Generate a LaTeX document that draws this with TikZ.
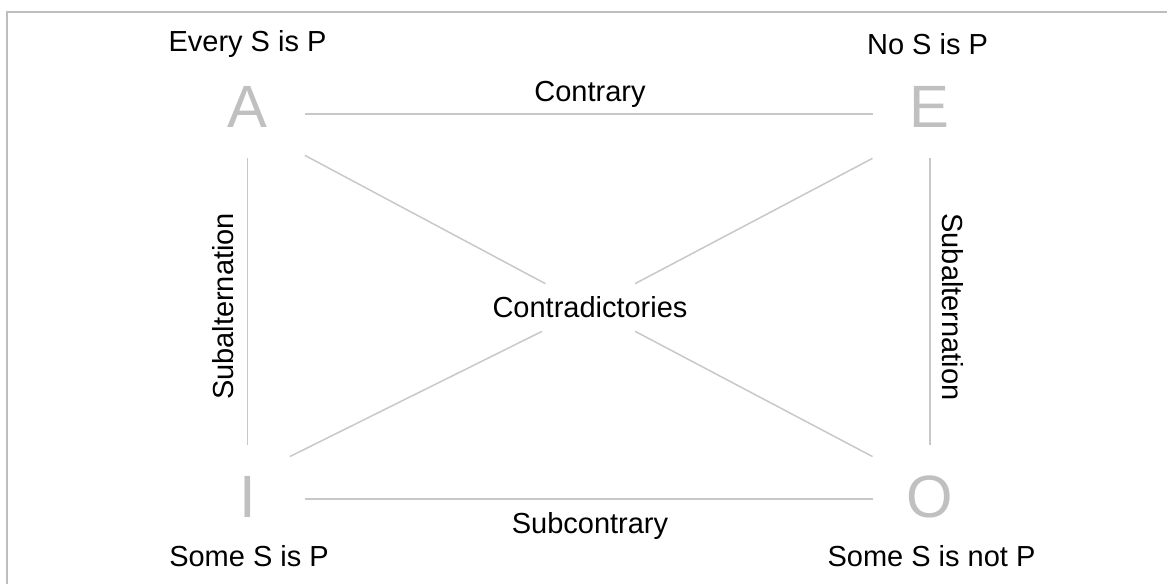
\documentclass[tikz,border=0pt]{standalone}
\usepackage{fontspec}
\setmainfont{Liberation Sans}
\usetikzlibrary{positioning}

\definecolor{letterGray}{RGB}{192,192,192}
\definecolor{lineGray}{RGB}{200,200,200}
\definecolor{frameGray}{RGB}{190,190,190}

\begin{document}
\begin{tikzpicture}[
    x=0.02cm, y=-0.02cm,
    corner/.style={minimum width=2.28cm, minimum height=2.06cm, inner sep=0pt,
        text=letterGray, font=\fontsize{34}{40}\selectfont},
    caption/.style={anchor=base, inner sep=0pt, font=\fontsize{16.5}{20}\selectfont},
    link/.style={draw=lineGray, line width=0.85pt},
    every node/.style={
        text centered,
        }
        ]
    \useasboundingbox (0,0) rectangle (1167,584);
    \draw[frameGray, line width=1.1pt] (7,584) -- (7,12) -- (1167,12);

    \node[corner] (A) at (247.5, 106.5) {A};
    \node[corner, xshift=13.65cm] (E) at (A) {E};
    \node[corner, yshift=-7.81cm] (I) at (A) {I};
    \node[corner, xshift=13.65cm] (O) at (I) {O};

    \node[caption] (every) at (247.5, 52) {Every S is P};
    \node[caption] (no) at (927.5, 55) {No S is P};
    \node[caption] (some) at (249, 566) {Some S is P};
    \node[caption] (someNot) at (931.5, 566) {Some S is not P};

    \node[caption] (contrary) at (590, 102) {Contrary};
    \node[caption] (subcontrary) at (590, 533) {Subcontrary};
    \node[caption, rotate=90] (subLeft) at (233, 306.5) {Subalternation};
    \node[caption, rotate=-90] (subRight) at (942, 307) {Subalternation};
    \node[caption, anchor=center, minimum height=0.94cm] (contra) at (590, 307.5) {Contradictories};

    \draw[link] ([yshift=-0.15cm]A.east) -- ([yshift=-0.15cm]E.west);
    \draw[link] ([yshift=-0.04cm]I.east) -- ([yshift=-0.04cm]O.west);
    \draw[link] (A.south) -- (I.north);
    \draw[link] (E.south) -- (O.north);

    \draw[link] ([yshift=0.06cm]A.south east) -- (contra);
    \draw[link] (contra) -- ([yshift=-0.23cm]O.north west);
    \draw[link] (E.south west) -- (contra);
    \draw[link] (contra) -- ([xshift=-0.3cm, yshift=-0.23cm]I.north east);
\end{tikzpicture}
\end{document}
